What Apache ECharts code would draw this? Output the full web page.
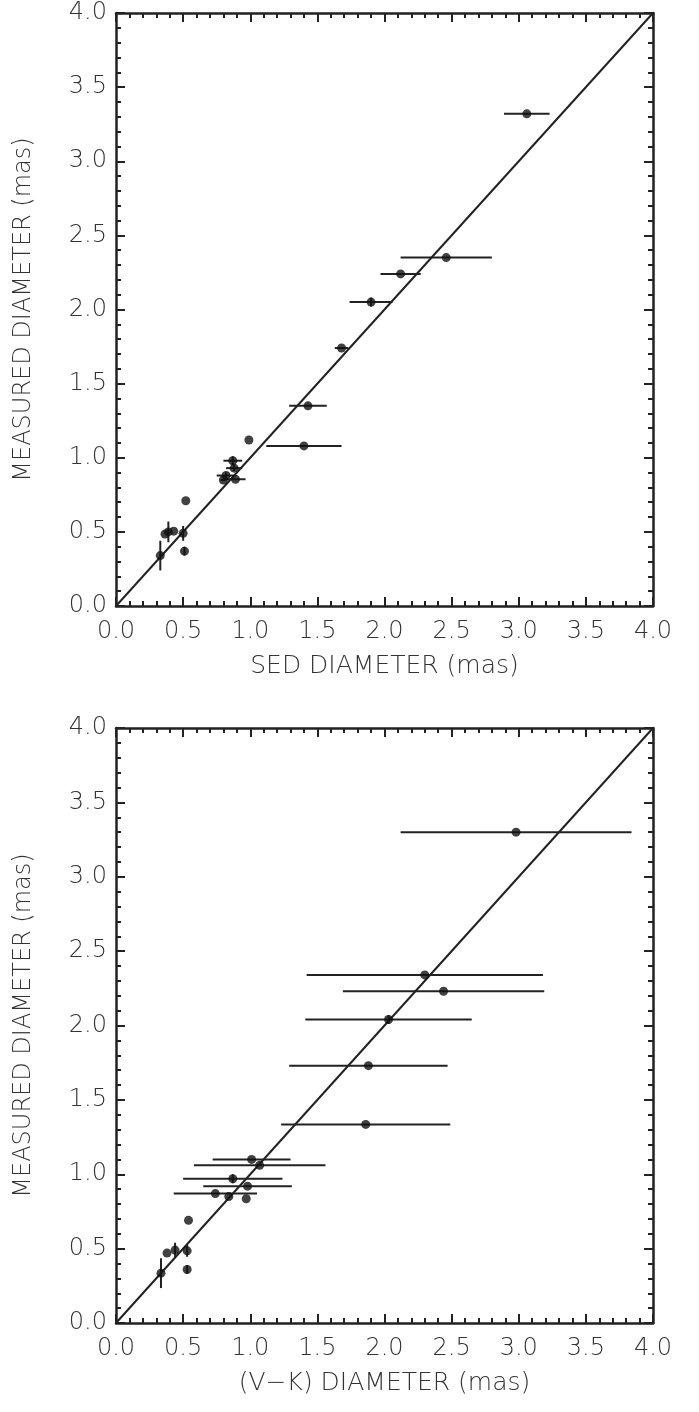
<!DOCTYPE html>
<html>
<head>
<meta charset="utf-8">
<script src="https://cdn.jsdelivr.net/npm/echarts@6/dist/echarts.min.js"></script>
<style>
html, body { margin: 0; padding: 0; background: #fff; }
#chart { width: 699px; height: 1412px; }
</style>
</head>
<body>
<div id="chart"></div>
<script>
// top panel: SED diameter vs measured diameter
var sedX    = [3.06, 2.46, 2.12, 1.90, 1.68, 1.43, 1.40, 0.99, 0.87, 0.88, 0.82, 0.80, 0.89, 0.52, 0.365, 0.39, 0.43, 0.50, 0.51, 0.33];
var sedY    = [3.32, 2.35, 2.24, 2.05, 1.74, 1.35, 1.08, 1.12, 0.98, 0.93, 0.88, 0.85, 0.855, 0.71, 0.485, 0.50, 0.505, 0.49, 0.37, 0.34];
var sedXErr = [0.17, 0.34, 0.15, 0.16, 0.05, 0.14, 0.28, 0.00, 0.07, 0.06, 0.07, 0.02, 0.075, 0.00, 0.00, 0.00, 0.00, 0.00, 0.00, 0.00];
var sedYErr = [0.00, 0.00, 0.00, 0.03, 0.00, 0.00, 0.00, 0.00, 0.03, 0.02, 0.02, 0.00, 0.00, 0.00, 0.00, 0.07, 0.00, 0.05, 0.03, 0.10];

// bottom panel: (V-K) diameter vs measured diameter
var vkX    = [2.98, 2.30, 2.44, 2.03, 1.88, 1.86, 1.01, 1.07, 0.87, 0.98, 0.74, 0.84, 0.97, 0.54, 0.38, 0.44, 0.53, 0.53, 0.335];
var vkY    = [3.30, 2.34, 2.23, 2.04, 1.73, 1.335, 1.10, 1.06, 0.97, 0.92, 0.87, 0.85, 0.835, 0.69, 0.47, 0.49, 0.485, 0.36, 0.335];
var vkXErr = [0.86, 0.88, 0.75, 0.62, 0.59, 0.63, 0.29, 0.49, 0.37, 0.33, 0.31, 0.00, 0.00, 0.00, 0.00, 0.00, 0.00, 0.00, 0.00];
var vkYErr = [0.00, 0.00, 0.00, 0.03, 0.00, 0.00, 0.00, 0.00, 0.03, 0.00, 0.00, 0.00, 0.00, 0.00, 0.00, 0.05, 0.04, 0.03, 0.10];

var oneToOne = [[0, 0], [4, 4]];

var font = 'DejaVu Sans';
var ink = '#222';
var txt = '#333';

function rows(x, y, ex, ey) {
    var out = [];
    for (var i = 0; i < x.length; i++) out.push([x[i], y[i], ex[i], ey[i]]);
    return out;
}

function errBars(params, api) {
    var x = api.value(0), y = api.value(1), ex = api.value(2), ey = api.value(3);
    var kids = [];
    var st = { stroke: ink, lineWidth: 2 };
    if (ex > 0) {
        var a = api.coord([x - ex, y]), b = api.coord([x + ex, y]);
        kids.push({ type: 'line', shape: { x1: a[0], y1: a[1], x2: b[0], y2: b[1] }, style: st });
    }
    if (ey > 0) {
        var c = api.coord([x, y - ey]), d = api.coord([x, y + ey]);
        kids.push({ type: 'line', shape: { x1: c[0], y1: c[1], x2: d[0], y2: d[1] }, style: st });
    }
    return { type: 'group', children: kids };
}

function mainX(idx, name) {
    return {
        type: 'value', gridIndex: idx, min: 0, max: 4, interval: 0.5,
        name: name, nameLocation: 'middle', nameGap: 48,
        nameTextStyle: { fontFamily: font, fontWeight: 200, fontSize: 25, color: txt },
        axisLine: { onZero: false, lineStyle: { color: ink, width: 2.5 } },
        axisTick: { inside: true, length: 9, lineStyle: { color: ink, width: 2 } },
        minorTick: { show: true, splitNumber: 5, length: 5, lineStyle: { color: ink, width: 2 } },
        axisLabel: { margin: 14, fontFamily: font, fontWeight: 200, fontSize: 24, color: txt,
            formatter: function (v) { return v.toFixed(1); } },
        splitLine: { show: false }
    };
}
function mainY(idx) {
    return {
        type: 'value', gridIndex: idx, min: 0, max: 4, interval: 0.5,
        name: 'MEASURED DIAMETER (mas)', nameLocation: 'middle', nameGap: 80,
        nameTextStyle: { fontFamily: font, fontWeight: 200, fontSize: 24, color: txt },
        axisLine: { onZero: false, lineStyle: { color: ink, width: 2.5 } },
        axisTick: { inside: true, length: 9, lineStyle: { color: ink, width: 2 } },
        minorTick: { show: true, splitNumber: 5, length: 5, lineStyle: { color: ink, width: 2 } },
        axisLabel: { margin: 9, fontFamily: font, fontWeight: 200, fontSize: 24, color: txt,
            padding: [6, 0, 0, 0],
            formatter: function (v) { return v.toFixed(1); } },
        splitLine: { show: false }
    };
}
function mirror(idx, pos) {
    return {
        type: 'value', gridIndex: idx, min: 0, max: 4, interval: 0.5, position: pos,
        axisLine: { onZero: false, lineStyle: { color: ink, width: 2.5 } },
        axisTick: { inside: true, length: 9, lineStyle: { color: ink, width: 2 } },
        minorTick: { show: true, splitNumber: 5, length: 5, lineStyle: { color: ink, width: 2 } },
        axisLabel: { show: false },
        splitLine: { show: false }
    };
}

function panel(xi, yi, x, y, ex, ey) {
    return [
        { type: 'line', xAxisIndex: xi, yAxisIndex: yi, data: oneToOne, symbol: 'none',
          lineStyle: { color: ink, width: 2 }, silent: true, z: 2 },
        { type: 'custom', xAxisIndex: xi, yAxisIndex: yi, renderItem: errBars,
          data: rows(x, y, ex, ey), encode: { x: 0, y: 1 }, z: 3 },
        { type: 'scatter', xAxisIndex: xi, yAxisIndex: yi, symbol: 'circle', symbolSize: 9,
          itemStyle: { color: '#111' }, data: rows(x, y, ex, ey), z: 4 }
    ];
}

var myChart = echarts.init(document.getElementById('chart'));
myChart.setOption({
    animation: false,
    backgroundColor: '#fff',
    grid: [
        { left: 116, top: 13, width: 537, height: 593 },
        { left: 116, top: 728, width: 537, height: 595 }
    ],
    xAxis: [
        mainX(0, 'SED DIAMETER (mas)'),
        mainX(1, '(V\u2212K) DIAMETER (mas)'),
        mirror(0, 'top'),
        mirror(1, 'top')
    ],
    yAxis: [
        mainY(0),
        mainY(1),
        mirror(0, 'right'),
        mirror(1, 'right')
    ],
    series: panel(0, 0, sedX, sedY, sedXErr, sedYErr).concat(panel(1, 1, vkX, vkY, vkXErr, vkYErr))
});
</script>
</body>
</html>
